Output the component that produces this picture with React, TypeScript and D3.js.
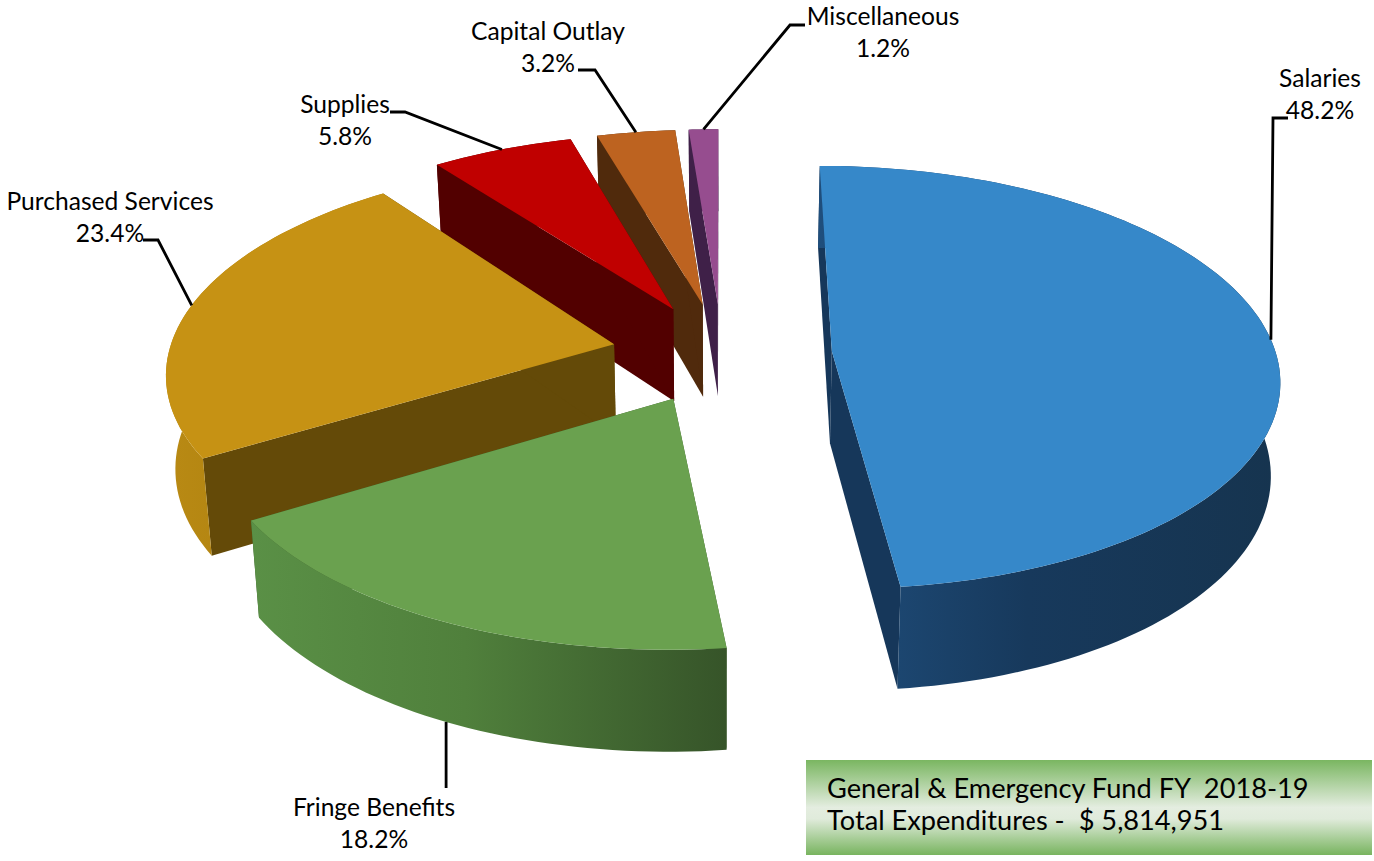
import * as d3 from 'd3';

const categories = ['Salaries', 'Fringe Benefits', 'Purchased Services', 'Supplies', 'Capital Outlay', 'Miscellaneous'];
const shares = [48.2, 18.2, 23.4, 5.8, 3.2, 1.2];
const shareLabels = ['48.2%', '18.2%', '23.4%', '5.8%', '3.2%', '1.2%'];
const boxLines = ['General & Emergency Fund FY  2018-19', 'Total Expenditures -  $ 5,814,951'];

const topColors = ['#3688c9', '#6aa14f', '#c69214', '#c00000', '#bd6320', '#964d8f'];
const innerColors = ['#16375a', '#3a5a2a', '#644a08', '#520000', '#502a0c', '#3f2048'];
const wallStops = [
  ['#1f4e7c', '#17395c', '#16344f'],
  ['#5a9046', '#50803c', '#365429'],
  ['#b98a14', '#b08210', '#a87c10'],
  ['#520000', '#520000', '#520000'],
  ['#502a0c', '#502a0c', '#502a0c'],
  ['#3f2048', '#3f2048', '#3f2048'],
];

// label centre x, first baseline y, elbow end of the leader
const labelX = [1320, 374, 110, 345, 548, 883];
const labelY = [87, 816, 210, 113, 40, 25];
const elbows: [number, number][][] = [
  [[1273, 118], [1288, 118]],
  [],
  [[158, 240], [143, 240]],
  [[405, 112], [390, 112]],
  [[595, 70], [578, 70]],
  [[790, 25], [805, 25]],
];

const cx = 722;
const cy = 354;
const explodeX = 110;
const explodeY = 50;
const A = 448;
const B = 211;
const centreDrop = 26;
const warp = (7 * Math.PI) / 180;
const shear = 0.11;
const depth = 92;
const font = 'Lato, sans-serif';
const drawOrder = [5, 4, 3, 2, 0, 1];

const pie = d3.pie<number>().sort(null);
const arcs = pie(shares);

function apex(i: number): [number, number] {
  const mid = (arcs[i].startAngle + arcs[i].endAngle) / 2;
  return [cx + explodeX * Math.sin(mid), cy - explodeY * Math.cos(mid)];
}

// every slice sits on the same ellipse, moved to its own apex; slices pushed toward the viewer come out a bit larger
function project(i: number, angle: number): [number, number] {
  const [ax, ay] = apex(i);
  const t = angle - warp * Math.sin(angle);
  const v = -Math.cos(t);
  const scaleY = 1 + (ay - 350) * 0.0012;
  const scaleX = 1 + Math.max(0, ay - 350) * 0.0007;
  return [ax + A * scaleX * Math.sin(t) + (ax - cx) * shear * v, ay + (centreDrop + B * v) * scaleY];
}

// extrude downwards, the lower face shrinks slightly toward the middle
function drop(p: [number, number], v: number): [number, number] {
  return [p[0] - (p[0] - cx) * 0.017, p[1] + depth + 10 * v];
}

const line = d3.line<[number, number]>();

function arcPoints(i: number): [number, number][] {
  const { startAngle, endAngle } = arcs[i];
  const n = Math.max(8, Math.round((endAngle - startAngle) * 40));
  return d3.range(n + 1).map(k => project(i, startAngle + ((endAngle - startAngle) * k) / n));
}

export default function App() {
  return (
    <svg width={1374} height={861} style={{ position: 'absolute', left: 0, top: 0 }} fontFamily={font}>
      <defs>
        {categories.map((_, i) => {
          const xs = arcPoints(i).map(p => p[0]);
          return (
            <linearGradient key={i} id={`wall-${i}`} gradientUnits="userSpaceOnUse" x1={d3.min(xs)} x2={d3.max(xs)} y1={0} y2={0}>
              <stop offset="0%" stopColor={wallStops[i][0]} />
              <stop offset="45%" stopColor={wallStops[i][1]} />
              <stop offset="100%" stopColor={wallStops[i][2]} />
            </linearGradient>
          );
        })}
        <linearGradient id="box-fill" x1="0" x2="0" y1="0" y2="1">
          <stop offset="0%" stopColor="#7ab661" />
          <stop offset="50%" stopColor="#e4ede0" />
          <stop offset="62%" stopColor="#e0ebdb" />
          <stop offset="100%" stopColor="#78b45f" />
        </linearGradient>
      </defs>

      {drawOrder.map(i => {
        const { startAngle, endAngle } = arcs[i];
        const a = apex(i);
        const pts = arcPoints(i);
        const first = pts[0];
        const last = pts[pts.length - 1];
        const vAt = (angle: number) => -Math.cos(angle);
        const n = pts.length - 1;
        const lower = pts.map((p, k) => drop(p, vAt(startAngle + ((endAngle - startAngle) * k) / n)));
        const aLow = drop(a, 0);
        return (
          <g key={i}>
            <path d={line([a, first, drop(first, vAt(startAngle)), aLow])! + 'Z'} fill={innerColors[i]} />
            <path d={line([a, last, drop(last, vAt(endAngle)), aLow])! + 'Z'} fill={innerColors[i]} />
            <path d={line([...pts, ...lower.slice().reverse()])! + 'Z'} fill={`url(#wall-${i})`} />
            <path d={line([a, ...pts])! + 'Z'} fill={topColors[i]} />
          </g>
        );
      })}

      {categories.map((name, i) => {
        const mid = (arcs[i].startAngle + arcs[i].endAngle) / 2;
        const p = project(i, mid);
        // the fringe leader leaves the bottom of the wall and runs straight down
        const from = i === 1 ? drop(p, -Math.cos(mid)) : p;
        const rest: [number, number][] = i === 1 ? [[from[0], 788]] : elbows[i];
        return (
          <g key={name}>
            <path d={line([from, ...rest])!} fill="none" stroke="#000" strokeWidth={2.8} />
            <text x={labelX[i]} y={labelY[i]} textAnchor="middle" fontSize={24.6} fill="#000">{name}</text>
            <text x={labelX[i]} y={labelY[i] + 32} textAnchor="middle" fontSize={24.6} fill="#000">{shareLabels[i]}</text>
          </g>
        );
      })}

      <rect x={806} y={760} width={566} height={95} fill="url(#box-fill)" />
      {boxLines.map((t, i) => (
        <text key={i} x={827} y={798 + i * 32} fontSize={27.2} fill="#000" style={{ whiteSpace: 'pre' }}>{t}</text>
      ))}
    </svg>
  );
}
